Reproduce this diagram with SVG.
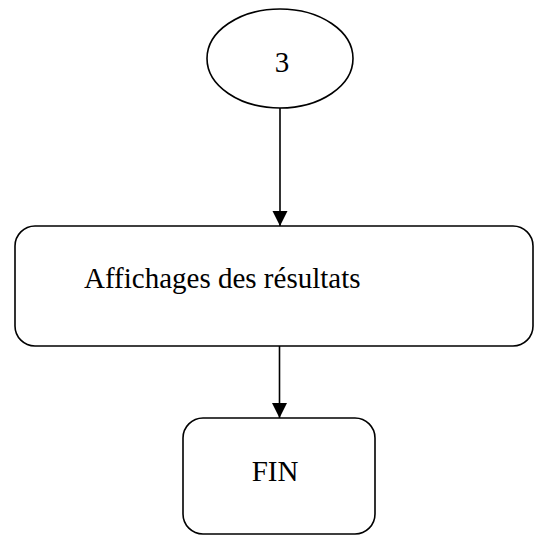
<svg xmlns="http://www.w3.org/2000/svg" width="535" height="536" viewBox="0 0 535 536">
  <style>
    .shape { fill: #ffffff; stroke: #000000; stroke-width: 1.6; }
    .conn { stroke: #000000; stroke-width: 1.6; fill: none; }
    .lbl { font-family: "Liberation Serif", "Times New Roman", serif; font-size: 29px; fill: #000000; }
  </style>
  <defs>
    <marker id="arrow" markerUnits="userSpaceOnUse" markerWidth="16" markerHeight="16" refX="15" refY="7.5" orient="auto">
      <path d="M0,0 L15,7.5 L0,15 Z" fill="#000000"/>
    </marker>
  </defs>
  <rect width="535" height="536" fill="#ffffff"/>
  <g id="connectors">
    <line class="conn" x1="280" y1="108" x2="280" y2="226" marker-end="url(#arrow)"/>
    <line class="conn" x1="279.5" y1="346" x2="279.5" y2="418" marker-end="url(#arrow)"/>
  </g>
  <g id="node-3">
    <ellipse class="shape" cx="280" cy="58.5" rx="73" ry="49.5"/>
    <text class="lbl" x="282" y="72" text-anchor="middle">3</text>
  </g>
  <g id="node-affichage">
    <rect class="shape" x="15" y="226" width="518" height="120" rx="20" ry="20"/>
    <text class="lbl" x="84" y="288">Affichages des résultats</text>
  </g>
  <g id="node-fin">
    <rect class="shape" x="183" y="418" width="192" height="116" rx="20" ry="20"/>
    <text class="lbl" x="275" y="481" text-anchor="middle">FIN</text>
  </g>
</svg>
